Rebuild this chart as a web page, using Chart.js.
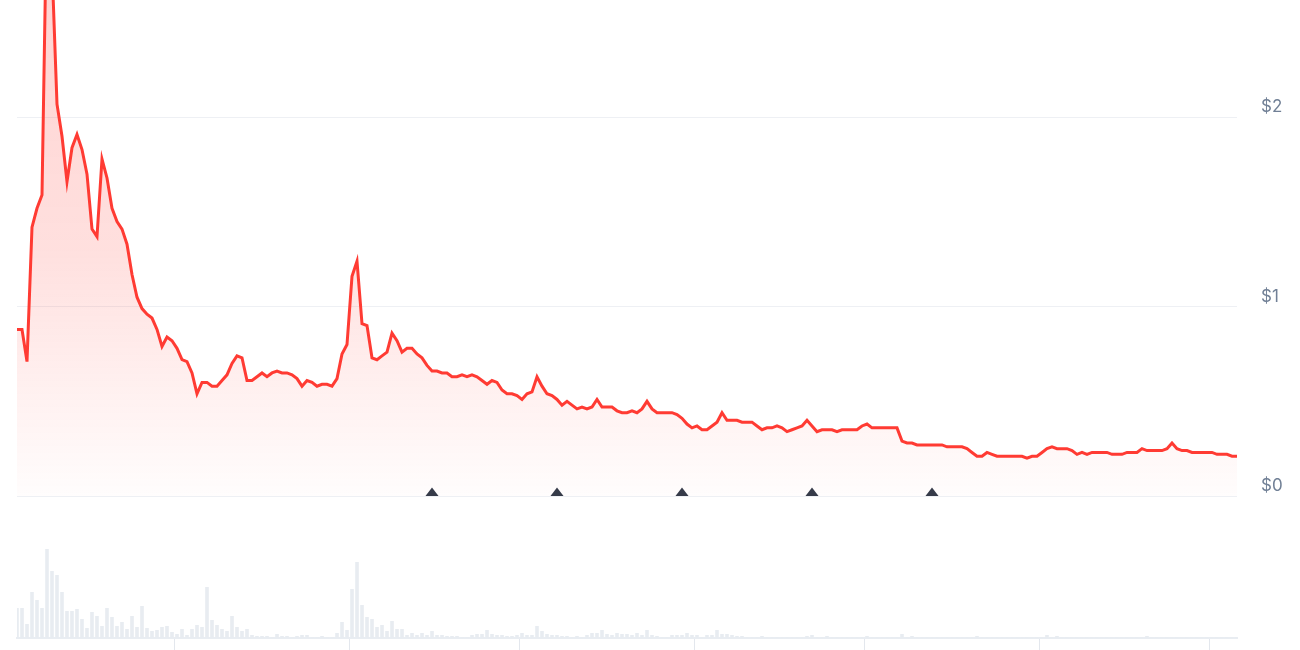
<!DOCTYPE html>
<html>
<head>
<meta charset="utf-8">
<script src="https://cdn.jsdelivr.net/npm/chart.js@4.4.1/dist/chart.umd.min.js"></script>
<style>
  html, body { margin: 0; padding: 0; background: #fff; }
  #wrap { position: relative; width: 1300px; height: 650px; overflow: hidden; }
  #priceBox { position: absolute; left: 0; top: 0; width: 1300px; height: 510px; }
  #volBox { position: absolute; left: 0; top: 530px; width: 1300px; height: 120px; }
</style>
</head>
<body>
<div id="wrap">
  <div id="priceBox"><canvas id="price"></canvas></div>
  <div id="volBox"><canvas id="vol"></canvas></div>
</div>
<script>
// ── data (one sample every ~5px) ──
const prices = [
  0.88, 0.88, 0.71, 1.42, 1.52, 1.59, 3.20, 2.80, 2.07, 1.90,
  1.66, 1.84, 1.91, 1.83, 1.70, 1.41, 1.37, 1.78, 1.68, 1.52,
  1.45, 1.41, 1.33, 1.17, 1.05, 0.99, 0.96, 0.94, 0.88, 0.79,
  0.84, 0.82, 0.78, 0.72, 0.71, 0.65, 0.54, 0.60, 0.60, 0.58,
  0.58, 0.61, 0.64, 0.70, 0.74, 0.73, 0.61, 0.61, 0.63, 0.65,
  0.63, 0.65, 0.66, 0.65, 0.65, 0.64, 0.62, 0.58, 0.61, 0.60,
  0.58, 0.59, 0.59, 0.58, 0.62, 0.75, 0.80, 1.16, 1.24, 0.91,
  0.90, 0.73, 0.72, 0.74, 0.76, 0.86, 0.82, 0.76, 0.78, 0.78,
  0.75, 0.73, 0.69, 0.66, 0.66, 0.65, 0.65, 0.63, 0.63, 0.64,
  0.63, 0.64, 0.63, 0.61, 0.59, 0.61, 0.60, 0.56, 0.54, 0.54,
  0.53, 0.51, 0.54, 0.55, 0.63, 0.58, 0.54, 0.53, 0.51, 0.48,
  0.50, 0.48, 0.46, 0.47, 0.46, 0.47, 0.51, 0.47, 0.47, 0.47,
  0.45, 0.44, 0.44, 0.45, 0.44, 0.46, 0.50, 0.46, 0.44, 0.44,
  0.44, 0.44, 0.43, 0.41, 0.38, 0.36, 0.37, 0.35, 0.35, 0.37,
  0.39, 0.44, 0.40, 0.40, 0.40, 0.39, 0.39, 0.39, 0.37, 0.35,
  0.36, 0.36, 0.37, 0.36, 0.34, 0.35, 0.36, 0.37, 0.40, 0.37,
  0.34, 0.35, 0.35, 0.35, 0.34, 0.35, 0.35, 0.35, 0.35, 0.37,
  0.38, 0.36, 0.36, 0.36, 0.36, 0.36, 0.36, 0.29, 0.28, 0.28,
  0.27, 0.27, 0.27, 0.27, 0.27, 0.27, 0.26, 0.26, 0.26, 0.26,
  0.25, 0.23, 0.21, 0.21, 0.23, 0.22, 0.21, 0.21, 0.21, 0.21,
  0.21, 0.21, 0.20, 0.21, 0.21, 0.23, 0.25, 0.26, 0.25, 0.25,
  0.25, 0.24, 0.22, 0.23, 0.22, 0.23, 0.23, 0.23, 0.23, 0.22,
  0.22, 0.22, 0.23, 0.23, 0.23, 0.25, 0.24, 0.24, 0.24, 0.24,
  0.25, 0.28, 0.25, 0.24, 0.24, 0.23, 0.23, 0.23, 0.23, 0.23,
  0.22, 0.22, 0.22, 0.21, 0.21
];

const volumes = [
  30, 30, 14, 46, 38, 30, 89, 67, 63, 46,
  27, 27, 29, 19, 10, 26, 22, 12, 30, 21,
  12, 16, 9, 22, 11, 32, 10, 7, 8, 11,
  12, 6, 4, 9, 3, 9, 13, 11, 51, 18,
  13, 9, 7, 22, 11, 7, 9, 3, 2, 2,
  2, 1, 4, 2, 2, 1, 2, 3, 3, 1,
  1, 2, 1, 1, 5, 16, 8, 49, 76, 33,
  21, 19, 11, 13, 7, 17, 9, 9, 3, 5,
  3, 5, 3, 7, 3, 3, 2, 2, 2, 1,
  1, 3, 4, 4, 8, 4, 3, 3, 2, 2,
  3, 5, 3, 3, 12, 7, 4, 3, 3, 2,
  2, 1, 2, 1, 3, 5, 5, 8, 4, 3,
  5, 4, 4, 3, 5, 3, 8, 3, 2, 1,
  1, 3, 3, 3, 5, 3, 3, 1, 3, 3,
  8, 4, 4, 3, 2, 2, 1, 1, 1, 2,
  1, 1, 1, 1, 1, 1, 1, 1, 2, 3,
  1, 1, 2, 1, 1, 1, 1, 1, 1, 1,
  2, 1, 1, 1, 1, 1, 1, 4, 1, 2,
  1, 1, 1, 1, 1, 1, 1, 1, 1, 1,
  1, 1, 2, 1, 1, 1, 1, 1, 1, 1,
  1, 1, 1, 1, 1, 1, 3, 1, 2, 1,
  1, 1, 1, 1, 1, 1, 1, 1, 1, 1,
  1, 1, 1, 1, 1, 1, 2, 1, 1, 1,
  1, 1, 1, 1, 1, 1, 1, 1, 1, 1,
  1, 1, 1, 1, 1
];

const days = prices.map((_, i) => i);          // category slots
const priceTicks = [0, 1, 2];                  // $ gridlines
const eventIdx = [83, 108, 133, 159, 183];     // ▲ event markers
const volTickIdx = [32, 67, 101, 136, 170, 205, 239];

const RED = "#ff3b33";
const GRID = "#eef0f4";

// flat dark triangle, drawn in the top half so its base sits on the point
function makeTriangle() {
  const c = document.createElement("canvas");
  c.width = 14; c.height = 18;
  const g = c.getContext("2d");
  g.fillStyle = "#363b49";
  g.beginPath();
  g.moveTo(7, 0.5);
  g.lineTo(13.5, 9);
  g.lineTo(0.5, 9);
  g.closePath();
  g.fill();
  return c;
}
const tri = makeTriangle();

const fillGrad = ctx => {
  const { ctx: c, chartArea } = ctx.chart;
  if (!chartArea) return null;
  const g = c.createLinearGradient(0, chartArea.top, 0, chartArea.bottom);
  g.addColorStop(0, "rgba(255,59,51,0.22)");
  g.addColorStop(0.5, "rgba(255,59,51,0.16)");
  g.addColorStop(0.8, "rgba(255,59,51,0.07)");
  g.addColorStop(1, "rgba(255,59,51,0.01)");
  return g;
};

new Chart(document.getElementById("price"), {
  type: "line",
  data: {
    labels: days,
    datasets: [
      {
        label: "events",
        data: days.map(i => (eventIdx.includes(i) ? 0 : null)),
        showLine: false,
        pointStyle: tri,
        pointRadius: 6,
        clip: false,
        order: 0,
      },
      {
        label: "price",
        data: prices,
        borderColor: RED,
        borderWidth: 3,
        backgroundColor: fillGrad,
        fill: "origin",
        pointRadius: 0,
        tension: 0,
        order: 1,
      },
    ],
  },
  options: {
    responsive: true,
    maintainAspectRatio: false,
    animation: false,
    layout: { autoPadding: false, padding: { left: 17, top: 0, right: 0, bottom: 14 } },
    plugins: { legend: { display: false }, tooltip: { enabled: false } },
    scales: {
      x: { display: false },
      y: {
        position: "right",
        min: 0,
        max: 2.62,
        afterBuildTicks: s => { s.ticks = priceTicks.map(v => ({ value: v })); },
        afterFit: s => { s.width = 63; s.paddingTop = 0; s.paddingBottom = 0; },
        border: { display: false },
        grid: { color: GRID, lineWidth: 1, drawTicks: false },
        ticks: {
          padding: 24,
          labelOffset: -10,
          color: "#718096",
          font: { family: "Inter", size: 17 },
          callback: v => "$" + v,
        },
      },
    },
  },
});

new Chart(document.getElementById("vol"), {
  type: "bar",
  data: {
    labels: days,
    datasets: [{
      data: volumes,
      backgroundColor: "#e8ecf1",
      categoryPercentage: 1,
      barPercentage: 0.72,
    }],
  },
  options: {
    responsive: true,
    maintainAspectRatio: false,
    animation: false,
    layout: { padding: { left: 17, top: 8, right: 63, bottom: 0 } },
    plugins: { legend: { display: false }, tooltip: { enabled: false } },
    scales: {
      x: {
        offset: false,
        afterFit: s => { s.height = 12; },
        border: { display: true, color: "#e9edf2", width: 2 },
        grid: {
          drawOnChartArea: false,
          drawTicks: true,
          tickLength: 12,
          tickColor: c => (volTickIdx.includes(c.index) ? "#e3e7ed" : "rgba(0,0,0,0)"),
          color: "rgba(0,0,0,0)",
        },
        ticks: { autoSkip: false, maxRotation: 0, callback: () => "", font: { size: 1 } },
      },
      y: { display: false, min: 0, max: 100 },
    },
  },
});
</script>
</body>
</html>
